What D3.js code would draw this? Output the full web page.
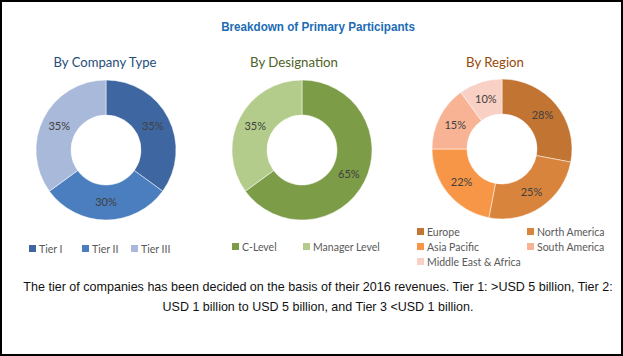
<!DOCTYPE html>
<html><head><meta charset="utf-8">
<script src="https://cdnjs.cloudflare.com/ajax/libs/d3/7.8.5/d3.min.js"></script>
<style>body{margin:0;background:#fff}</style>
</head><body><div id="chart"></div>
<script>
const chartTitle = "Breakdown of Primary Participants";
const companyCategories = ["Tier I", "Tier II", "Tier III"];
const companyValues = [35, 30, 35];
const designationCategories = ["C-Level", "Manager Level"];
const designationValues = [65, 35];
const regionCategories = ["Europe", "North America", "Asia Pacific", "South America", "Middle East & Africa"];
const regionValues = [28, 25, 22, 15, 10];
const footnoteLines = [
  "The tier of companies has been decided on the basis of their 2016 revenues. Tier 1: >USD 5 billion, Tier 2:",
  "USD 1 billion to USD 5 billion, and Tier 3 <USD 1 billion."
];

const W = 623, H = 356;
const svg = d3.select("#chart").append("svg").attr("width", W).attr("height", H);
svg.append("rect").attr("x", 1).attr("y", 1).attr("width", W - 2).attr("height", H - 2)
  .attr("fill", "#fff").attr("stroke", "#000").attr("stroke-width", 2);

const narrow = "'Liberation Sans Narrow','Arial Narrow','Liberation Sans',Arial,sans-serif";

// Draw text horizontally condensed to a target width (keeps the real bbox inside the frame)
function fitText(parent, cx, y, target, txt, attrs) {
  const g = parent.append("g");
  const t = g.append("text").attr("x", 0).attr("y", 0).attr("text-anchor", "middle").text(txt);
  Object.entries(attrs).forEach(([k, v]) => t.attr(k, v));
  const natural = t.node().getComputedTextLength();
  const s = natural > 0 ? target / natural : 1;
  g.attr("transform", `translate(${cx},${y}) scale(${s},1)`);
  return t;
}

fitText(svg, 318, 31, 194, chartTitle,
  {"font-family": narrow, "font-weight": "bold", "font-size": 12.5, "fill": "#1b6cb5"});

const labelFont = "Lato, 'Open Sans', sans-serif";

const charts = [
  {title: "By Company Type", tcolor: "#1f4e79", tx: 105, tw: 103, cx: 106, cy: 150, cats: companyCategories, vals: companyValues,
   colors: ["#3e67a1", "#4a7ebe", "#a8b9d9"],
   legend: [{x: 29, y: 249}, {x: 82, y: 249}, {x: 131, y: 249}]},
  {title: "By Designation", tcolor: "#4f6228", tx: 294, tw: 88, cx: 302, cy: 150, cats: designationCategories, vals: designationValues,
   colors: ["#7c9c47", "#b4cc8b"],
   legend: [{x: 232, y: 247}, {x: 303, y: 247}]},
  {title: "By Region", tcolor: "#984807", tx: 495, tw: 58, cx: 502, cy: 149, cats: regionCategories, vals: regionValues,
   colors: ["#c27432", "#d8843d", "#f79646", "#f7b393", "#f9d0c4"],
   legend: [{x: 417, y: 232}, {x: 527, y: 232}, {x: 417, y: 247}, {x: 527, y: 247}, {x: 417, y: 262}]}
];

const rOut = 70, rIn = 35;
charts.forEach(c => {
  fitText(svg, c.tx, 67, c.tw, c.title, {"font-family": labelFont, "font-size": 13, "fill": c.tcolor});
  const pie = d3.pie().sort(null).value(d => d)(c.vals);
  const arc = d3.arc().innerRadius(rIn).outerRadius(rOut);
  const lab = d3.arc().innerRadius((rIn + rOut) / 2).outerRadius((rIn + rOut) / 2);
  const g = svg.append("g").attr("transform", `translate(${c.cx},${c.cy})`);
  g.selectAll("path").data(pie).join("path").attr("d", arc)
    .attr("fill", (d, i) => c.colors[i]).attr("stroke", "#fff").attr("stroke-width", 0.5);
  g.selectAll("text").data(pie).join("text")
    .attr("transform", d => `translate(${lab.centroid(d)})`)
    .attr("text-anchor", "middle").attr("dy", "0.35em")
    .attr("font-family", labelFont).attr("font-size", 11).attr("fill", "#404040")
    .text(d => d.value + "%");
  c.cats.forEach((name, i) => {
    const p = c.legend[i];
    svg.append("rect").attr("x", p.x).attr("y", p.y - 4).attr("width", 7).attr("height", 7).attr("fill", c.colors[i]);
    svg.append("text").attr("x", p.x + 10).attr("y", p.y).attr("dy", "0.35em")
      .attr("font-family", labelFont).attr("font-size", 10.5).attr("fill", "#595959").text(name);
  });
});

const footWidths = [590, 311];
footnoteLines.forEach((t, i) => {
  fitText(svg, 318, 291 + i * 20, footWidths[i], t,
    {"font-family": narrow, "font-size": 13, "fill": "#111"});
});
</script></body></html>
